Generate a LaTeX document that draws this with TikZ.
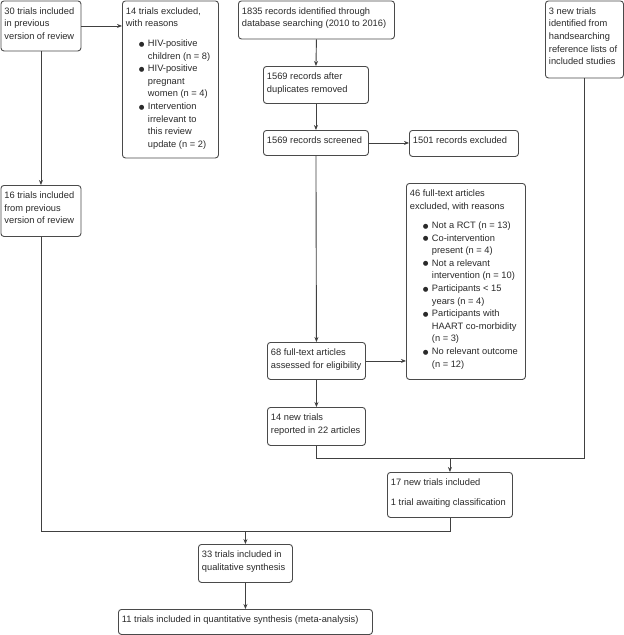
\documentclass[tikz,border=0pt]{standalone}
\usepackage{fontspec}
\setmainfont{Liberation Sans}
\newfontfamily\symf{DejaVu Sans}
\usetikzlibrary{arrows.meta,calc}
\definecolor{txtc}{HTML}{2A2A2A}
\definecolor{bordc}{HTML}{4A4A4A}
\definecolor{linec}{HTML}{404040}
\newcommand\bx[3]{\parbox[c][\dimexpr#2pt-9pt\relax][t]{\dimexpr#1pt-7pt\relax}{\begin{tabular}[t]{@{}l@{}}#3\end{tabular}}}
\newcommand\bul{\hspace{22pt}\llap{\raisebox{0.3pt}{\symf\fontsize{6.5}{6.5}\selectfont ●}\hspace{3.5pt}}}
\newcommand\ind{\hspace{22pt}}
\tikzset{
  box/.style={draw=bordc, line width=0.9pt, rounded corners=3pt, anchor=north west,
    inner xsep=3.5pt, inner ysep=4.5pt, text=txtc,
    font=\fontsize{9.3}{12.6}\selectfont},
  conn/.style={draw=linec, line width=0.9pt},
  arr/.style={conn, -{Stealth[length=5pt,width=4pt]}}
}
\begin{document}
\begin{tikzpicture}[x=1pt,y=-1pt]
\fill[white] (0,0) rectangle (624,635);
\useasboundingbox (0,0) rectangle (624,635);
\node[box] (A) at (0.5,0.5) {\bx{80}{50}{30 trials included\\in previous\\version of review}};
\node[box] (B) at (122,0.5) {\bx{96}{157}{14 trials excluded,\\with reasons\\[7pt]
\bul HIV-positive\\\ind children (n = 8)\\
\bul HIV-positive\\\ind pregnant\\\ind women (n = 4)\\
\bul Intervention\\\ind irrelevant to\\\ind this review\\\ind update (n = 2)}};
\node[box] (C) at (0.5,185) {\bx{80}{51}{16 trials included\\from previous\\version of review}};
\node[box] (D) at (238,0.5) {\bx{156}{38}{1835 records identified through\\database searching (2010 to 2016)}};
\node[box] (E) at (263,66) {\bx{105}{37}{1569 records after\\duplicates removed}};
\node[box] (F) at (263,130) {\bx{105}{25}{1569 records screened}};
\node[box] (G) at (409,130) {\bx{109}{26}{1501 records excluded}};
\node[box] (H) at (545,0.5) {\bx{78}{77}{3 new trials\\identified from\\handsearching\\reference lists of\\included studies}};
\node[box] (I) at (406,183) {\bx{119}{196}{46 full-text articles\\excluded, with reasons\\[6.5pt]
\bul Not a RCT (n = 13)\\
\bul Co-intervention\\\ind present (n = 4)\\
\bul Not a relevant\\\ind intervention (n = 10)\\
\bul Participants < 15\\\ind years (n = 4)\\
\bul Participants with\\\ind HAART co-morbidity\\\ind (n = 3)\\
\bul No relevant outcome\\\ind (n = 12)}};
\node[box] (J) at (267,342) {\bx{98}{37}{68 full-text articles\\assessed for eligibility}};
\node[box] (K) at (267,407) {\bx{98}{38}{14 new trials\\reported in 22 articles}};
\node[box] (L) at (387,472) {\bx{125}{45}{17 new trials included\\[7pt]1 trial awaiting classification}};
\node[box] (M) at (198,544) {\bx{94}{38}{33 trials included in\\qualitative synthesis}};
\node[box] (N) at (118,609) {\bx{254}{25}{11 trials included in quantitative synthesis (meta-analysis)}};
\coordinate (j1) at ($(L.north)+(0,-14)$);
\coordinate (j2) at ($(M.north)+(0,-13)$);
\draw[arr] (A.east) -- (A.east -| B.west);
\draw[arr] (A.south) -- (C.north);
\draw[arr] (D.south) -- (E.north);
\draw[arr] (E.south) -- (F.north);
\draw[arr] (F.east) -- (F.east -| G.west);
\draw[arr] (F.south) -- (J.north);
\draw[arr] (J.east) -- (J.east -| I.west);
\draw[arr] (J.south) -- (K.north);
\draw[conn] (K.south) |- (j1);
\draw[conn] (H.south) |- (j1);
\draw[arr] (j1) -- (L.north);
\draw[conn] (C.south) |- (j2);
\draw[conn] (L.south) |- (j2);
\draw[arr] (j2) -- (M.north);
\draw[arr] (M.south) -- (N.north);
\end{tikzpicture}
\end{document}
